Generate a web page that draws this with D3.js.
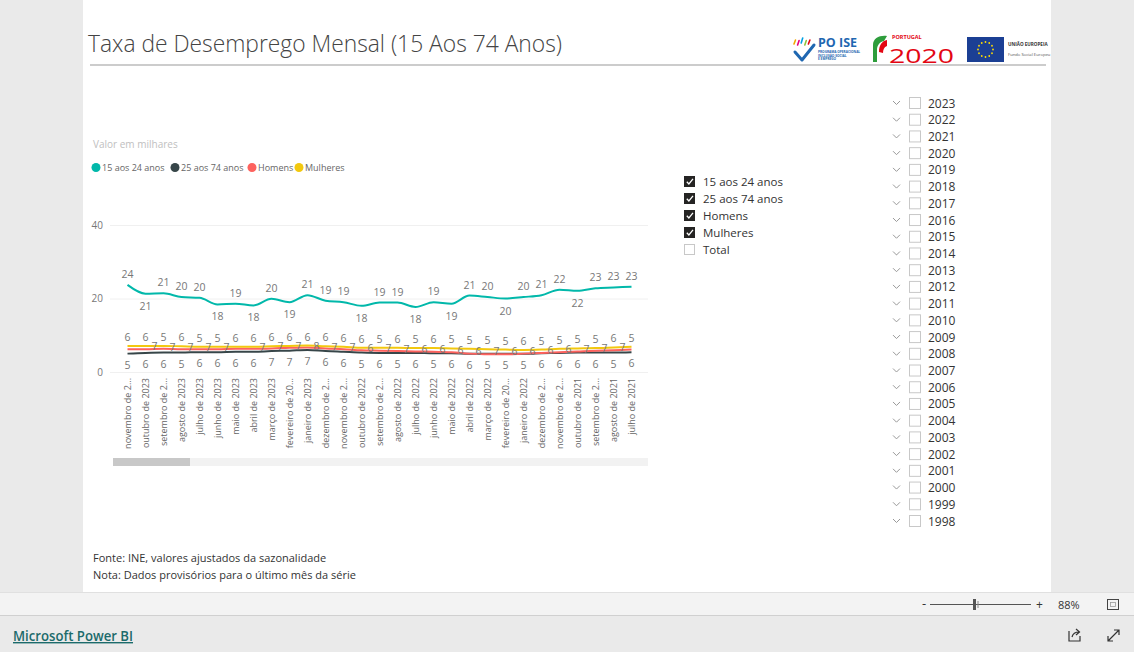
<!DOCTYPE html>
<html><head><meta charset="utf-8">
<script src="https://cdn.jsdelivr.net/npm/d3@7/dist/d3.min.js"></script>
<style>
html,body{margin:0;padding:0;background:#eaeaea;overflow:hidden;}
svg{display:block;}
text{font-family:"Segoe UI","Open Sans","Noto Sans",sans-serif;}
</style></head>
<body>
<svg id="c" width="1134" height="652"></svg>
<script>
// ---------- DATA ----------
const categories = ["novembro de 2023","outubro de 2023","setembro de 2023","agosto de 2023","julho de 2023","junho de 2023","maio de 2023","abril de 2023","março de 2023","fevereiro de 2023","janeiro de 2023","dezembro de 2022","novembro de 2022","outubro de 2022","setembro de 2022","agosto de 2022","julho de 2022","junho de 2022","maio de 2022","abril de 2022","março de 2022","fevereiro de 2022","janeiro de 2022","dezembro de 2021","novembro de 2021","outubro de 2021","setembro de 2021","agosto de 2021","julho de 2021"];
const jovens15a24 = [23.7,21.3,21.4,20.4,20.2,18.4,18.6,18.1,19.9,19.0,20.9,19.4,19.0,18.0,18.9,18.9,17.7,19.0,18.6,20.8,20.4,20.0,20.4,20.9,22.4,22.1,22.8,23.0,23.2];
const adultos25a74 = [5.0,5.2,5.3,5.3,5.4,5.4,5.5,5.5,5.7,5.8,6.0,5.7,5.5,5.3,5.2,5.2,5.2,5.1,5.1,5.0,5.0,5.0,5.0,5.1,5.2,5.3,5.3,5.3,5.4];
const homens = [6.2,6.2,6.3,6.2,6.2,6.2,6.3,6.3,6.4,6.6,6.7,6.4,6.2,5.9,5.8,5.7,5.6,5.5,5.4,5.0,4.8,4.8,5.0,5.2,5.4,5.6,5.8,5.9,6.1];
const mulheres = [7.1,7.1,7.1,7.0,6.9,6.9,6.9,6.9,7.0,7.1,7.2,7.0,6.9,6.6,6.6,6.6,6.5,6.5,6.4,6.3,6.2,6.1,6.0,6.1,6.3,6.4,6.5,6.7,6.9];
// visible data labels of the three lower series
const labelTop    = [6,6,5,6,5,5,6,6,6,6,6,6,6,6,5,6,5,6,5,5,5,5,6,5,5,5,5,6,5];
const labelMid    = [null,7,7,7,7,7,null,7,7,7,8,7,7,6,7,7,6,6,6,6,7,6,6,6,6,7,7,7,null];
const labelBottom = [5,6,6,5,6,6,6,6,7,7,7,6,6,5,6,5,6,5,6,6,5,5,5,6,6,6,6,5,6];
const yTicks = [0,20,40];
const seriesNames = ["15 aos 24 anos","25 aos 74 anos","Homens","Mulheres"];
const seriesColors = ["#01B8AA","#374649","#FD625E","#F2C80F"];
const filterItems = ["15 aos 24 anos","25 aos 74 anos","Homens","Mulheres","Total"];
const filterChecked = [true,true,true,true,false];
const years = d3.range(2023,1997,-1);

const svg = d3.select("#c");
// ---------- Canvas ----------
svg.append("rect").attr("x",0).attr("y",0).attr("width",1134).attr("height",652).attr("fill","#eaeaea");
svg.append("rect").attr("x",83).attr("y",0).attr("width",968).attr("height",592).attr("fill","#ffffff");
svg.append("rect").attr("x",0).attr("y",592).attr("width",1134).attr("height",23).attr("fill","#f3f3f3");
svg.append("line").attr("x1",0).attr("x2",1134).attr("y1",592.5).attr("y2",592.5).attr("stroke","#e0e0e0");
svg.append("line").attr("x1",0).attr("x2",1134).attr("y1",615.5).attr("y2",615.5).attr("stroke","#d0d0d0");

// ---------- Title ----------
svg.append("text").attr("x",88).attr("y",52).text("Taxa de Desemprego Mensal (15 Aos 74 Anos)")
  .attr("font-size",24).attr("font-weight",300).attr("fill","#444")
  .attr("textLength",474).attr("lengthAdjust","spacingAndGlyphs");
svg.append("line").attr("x1",90).attr("x2",1046).attr("y1",65).attr("y2",65).attr("stroke","#9a9a9a").attr("stroke-width",1.2);

// ---------- Logos ----------
const lg = svg.append("g");
const handCols = ["#f2a900","#e5007e","#00a0e3","#8cc63f","#e30613"];
handCols.forEach((c,i)=>{
  lg.append("line").attr("x1",794+i*3.6).attr("y1",46 - (i==2?3:Math.abs(i-2))).attr("x2",795.5+i*3.6).attr("y2",41-(i==2?3:Math.abs(i-2)*0.5)).attr("stroke",c).attr("stroke-width",1.6).attr("stroke-linecap","round");
});
lg.append("path").attr("d","M795,52 L802,60 L814,45").attr("fill","none").attr("stroke","#1f67b1").attr("stroke-width",3).attr("stroke-linecap","round").attr("stroke-linejoin","round");
lg.append("text").attr("x",818).attr("y",47).text("PO ISE").attr("font-size",12.5).attr("font-weight",700).attr("fill","#1f67b1").attr("font-family","Roboto, sans-serif");
["PROGRAMA OPERACIONAL","INCLUSÃO SOCIAL","E EMPREGO"].forEach((t,i)=>
  lg.append("text").attr("x",818).attr("y",53+i*3.6).text(t).attr("font-size",3.2).attr("fill","#1f67b1").attr("font-weight",700));
lg.append("path").attr("d","M873,45 C873,38 880,35 887,36 L884,41 C879,42 877,46 877,50 L877,62 L873,62 Z").attr("fill","#2e9d3c");
lg.append("path").attr("d","M879,52 C879,45 882,41 887,40 L887,46 C884,47 883,50 883,53 Z").attr("fill","#e30613");
lg.append("text").attr("x",892).attr("y",38.5).text("PORTUGAL").attr("font-size",5.5).attr("fill","#e30613").attr("font-family","DejaVu Serif, serif").attr("font-weight",700);
lg.append("text").attr("x",889).attr("y",63).text("2020").attr("font-size",20).attr("fill","#e30613").attr("font-family","DejaVu Sans, sans-serif")
  .attr("textLength",65).attr("lengthAdjust","spacingAndGlyphs");
lg.append("rect").attr("x",967).attr("y",37).attr("width",37).attr("height",25).attr("fill","#1b3f94");
d3.range(12).forEach(i=>{
  const a = i/12*2*Math.PI;
  lg.append("circle").attr("cx",985.5+Math.cos(a)*7.5).attr("cy",49.5+Math.sin(a)*7.5).attr("r",0.9).attr("fill","#ffdd00");
});
lg.append("text").attr("x",1008).attr("y",46).text("UNIÃO EUROPEIA").attr("font-size",4.6).attr("font-weight",700).attr("fill","#333");
lg.append("text").attr("x",1008).attr("y",56).text("Fundo Social Europeu").attr("font-size",4.2).attr("fill","#555");

// ---------- Chart ----------
const x = d3.scalePoint().domain(categories).range([127.5,631.5]);
const y = d3.scaleLinear().domain([0,40]).range([372,225]);

svg.append("text").attr("x",93).attr("y",148).text("Valor em milhares").attr("font-size",10).attr("fill","#c0c0c0");

// legend
const legX = [96,175,252,299];
const leg = svg.append("g");
seriesNames.forEach((n,i)=>{
  leg.append("circle").attr("cx",legX[i]).attr("cy",167.5).attr("r",4.5).attr("fill",seriesColors[i]);
  leg.append("text").attr("x",legX[i]+6).attr("y",171).text(n).attr("font-size",9).attr("fill","#666");
});

// grid + y axis
const yAxis = d3.axisLeft(y).tickValues(yTicks).tickSize(-538).tickPadding(7);
const ga = svg.append("g").attr("transform","translate(110,0)").call(yAxis);
ga.select(".domain").remove();
ga.selectAll(".tick line").attr("stroke","#f0f0f0");
ga.selectAll(".tick text").attr("font-size",10).attr("fill","#777").attr("font-family",'"Segoe UI","Open Sans",sans-serif');

// x axis
const xAxis = d3.axisBottom(x).tickSize(0).tickPadding(0);
const gx = svg.append("g").attr("transform","translate(0,378)").call(xAxis);
gx.select(".domain").remove();
const xt = gx.selectAll(".tick text")
  .attr("font-size",9).attr("fill","#666").attr("font-family",'"Segoe UI","Open Sans",sans-serif')
  .attr("text-anchor","end").attr("dy","0.32em").attr("transform","rotate(-90)").attr("x",0).attr("y",0);
// labels longer than 15 characters are cut with an ellipsis, as in the report
let maxW = 0;
xt.each(function(){ if (this.textContent === "outubro de 2023") maxW = this.getComputedTextLength() + 3; });
xt.each(function(){
  const el = this; let t = el.textContent;
  if (t.length > 15) {
    t = t.slice(0,-1);
    while (t.length>1 && (el.textContent = t + "...", el.getComputedTextLength() > maxW)) t = t.slice(0,-1);
  }
});

// scrollbar
svg.append("rect").attr("x",113).attr("y",458).attr("width",535).attr("height",8).attr("fill","#f2f2f2");
svg.append("rect").attr("x",113).attr("y",458).attr("width",77).attr("height",8).attr("fill","#c8c8c8");

// lines
const allSeries = [jovens15a24, adultos25a74, homens, mulheres];
const line = d3.line().x((d,i)=>x(categories[i])).y(d=>y(d)).curve(d3.curveMonotoneX);
[1,2,3,0].forEach(s=>{
  svg.append("path").datum(allSeries[s]).attr("d",line).attr("fill","none")
    .attr("stroke",seriesColors[s]).attr("stroke-width",2).attr("stroke-linejoin","round");
});

// labels
const lab = svg.append("g").attr("font-size",10.5).attr("fill","#777").attr("text-anchor","middle");
const fmt = d3.format(".0f");
jovens15a24.forEach((v,i)=>{
  const prev = jovens15a24[i-1], next = jovens15a24[i+1];
  const below = prev!==undefined && next!==undefined && v<prev && v<next;
  lab.append("text").attr("x",x(categories[i])).attr("y", below ? y(v)+16 : y(v)-7).text(fmt(v));
});
const step = x.step();
labelTop.forEach((t,i)=>{
  const top = Math.min(y(mulheres[i]),y(homens[i]),y(adultos25a74[i]));
  lab.append("text").attr("x",x(categories[i])).attr("y",top-5).text(t);
});
labelMid.forEach((t,i)=>{
  if (t===null) return;
  const ym = (y(mulheres[i])+y(mulheres[i+1])+y(homens[i])+y(homens[i+1]))/4;
  lab.append("text").attr("x",x(categories[i])+step/2).attr("y",ym+3).text(t);
});
labelBottom.forEach((t,i)=>{
  const bot = Math.max(y(mulheres[i]),y(homens[i]),y(adultos25a74[i]));
  lab.append("text").attr("x",x(categories[i])).attr("y",bot+15).text(t);
});

// ---------- Series slicer ----------
const sl = svg.append("g");
filterItems.forEach((n,i)=>{
  const yy = 181.5 + i*17;
  if (filterChecked[i]) {
    sl.append("rect").attr("x",684).attr("y",yy-5.5).attr("width",11).attr("height",11).attr("fill","#252423");
    sl.append("path").attr("d",`M686.8,${yy+0.2} L688.9,${yy+2.4} L693,${yy-2.6}`).attr("fill","none").attr("stroke","#fff").attr("stroke-width",1.3);
  } else {
    sl.append("rect").attr("x",684.5).attr("y",yy-5).attr("width",10).attr("height",10).attr("fill","#fff").attr("stroke","#c8c8c8");
  }
  sl.append("text").attr("x",703).attr("y",yy+4.5).text(n).attr("font-size",11.5).attr("fill","#333");
});

// ---------- Year slicer ----------
const ys = svg.append("g");
years.forEach((yr,i)=>{
  const yy = 103 + i*16.72;
  ys.append("path").attr("d",`M893,${yy-2} L896.5,${yy+1.5} L900,${yy-2}`).attr("fill","none").attr("stroke","#999").attr("stroke-width",1);
  ys.append("rect").attr("x",909.5).attr("y",yy-5.5).attr("width",11).attr("height",11).attr("fill","#fff").attr("stroke","#c8c8c8");
  ys.append("text").attr("x",928).attr("y",yy+4.5).text(yr).attr("font-size",12).attr("fill","#333");
});

// ---------- Footer notes ----------
svg.append("text").attr("x",93).attr("y",562).text("Fonte: INE, valores ajustados da sazonalidade").attr("font-size",11).attr("fill","#333");
svg.append("text").attr("x",93).attr("y",579).text("Nota: Dados provisórios para o último mês da série").attr("font-size",11).attr("fill","#333");

// ---------- Bottom bar ----------
svg.append("text").attr("x",922).attr("y",608).text("-").attr("font-size",13).attr("fill","#333");
svg.append("line").attr("x1",930).attr("x2",1031).attr("y1",604.5).attr("y2",604.5).attr("stroke","#555");
svg.append("rect").attr("x",973).attr("y",599).attr("width",3).attr("height",11).attr("fill","#555");
svg.append("line").attr("x1",978).attr("x2",978).attr("y1",601).attr("y2",608).attr("stroke","#888");
svg.append("text").attr("x",1036).attr("y",609).text("+").attr("font-size",12).attr("fill","#333");
svg.append("text").attr("x",1058).attr("y",609).text("88%").attr("font-size",11).attr("fill","#333");
svg.append("rect").attr("x",1107.5).attr("y",599.5).attr("width",11).attr("height",10).attr("fill","none").attr("stroke","#444");
svg.append("rect").attr("x",1110.5).attr("y",602.5).attr("width",5).attr("height",4).attr("fill","none").attr("stroke","#999").attr("stroke-width",0.8);

// ---------- Footer ----------
svg.append("text").attr("x",13).attr("y",641).text("Microsoft Power BI").attr("font-size",14).attr("font-weight",600)
  .attr("fill","#1c6b6b").attr("text-decoration","underline").attr("textLength",120).attr("lengthAdjust","spacingAndGlyphs");
svg.append("path").attr("d","M1069,631 L1069,641 L1080,641 L1080,636 M1072,637 C1073,633 1076,632 1079,632 M1076,629 L1079.5,632 L1076,635").attr("fill","none").attr("stroke","#333").attr("stroke-width",1.2);
svg.append("path").attr("d","M1108,641 L1119,630 M1108,636 L1108,641 L1113,641 M1114,630 L1119,630 L1119,635").attr("fill","none").attr("stroke","#333").attr("stroke-width",1.2);
</script>
</body></html>
